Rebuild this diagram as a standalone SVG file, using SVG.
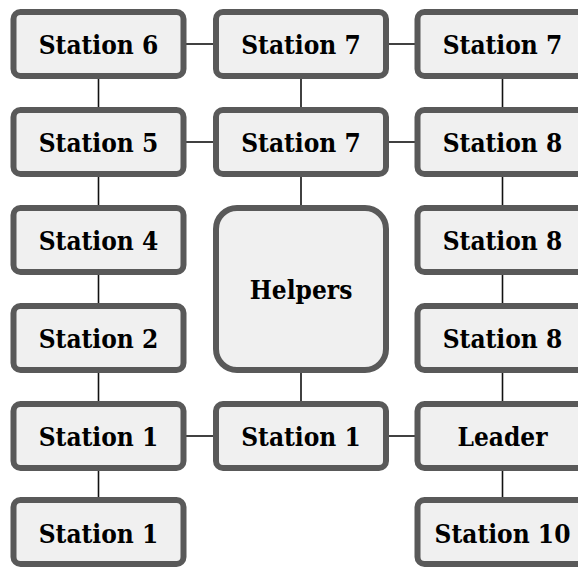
<svg xmlns="http://www.w3.org/2000/svg" width="578" height="567" viewBox="0 0 578 567">
  <style>
    .box { fill: #f0f0f0; stroke: #595959; stroke-width: 6; }
    .lbl { font-family: "DejaVu Serif Condensed", "DejaVu Serif", "Liberation Serif", serif; font-stretch: condensed; font-weight: bold; font-size: 26px; fill: #000; text-anchor: middle; }
    .edge { stroke: #111; stroke-width: 1.6; fill: none; }
  </style>
  <rect width="578" height="567" fill="#ffffff"/>

  <!-- connectors -->
  <g id="connectors" class="edge">
    <!-- horizontal links -->
    <line x1="186" y1="44" x2="213" y2="44"/>
    <line x1="388" y1="44" x2="415" y2="44"/>
    <line x1="186" y1="142" x2="213" y2="142"/>
    <line x1="388" y1="142" x2="415" y2="142"/>
    <line x1="186" y1="436" x2="213" y2="436"/>
    <line x1="388" y1="436" x2="415" y2="436"/>
    <!-- left column -->
    <line x1="98.5" y1="79" x2="98.5" y2="107"/>
    <line x1="98.5" y1="177" x2="98.5" y2="205"/>
    <line x1="98.5" y1="275" x2="98.5" y2="303"/>
    <line x1="98.5" y1="373" x2="98.5" y2="401"/>
    <line x1="98.5" y1="471" x2="98.5" y2="497"/>
    <!-- middle column -->
    <line x1="301" y1="79" x2="301" y2="107"/>
    <line x1="301" y1="177" x2="301" y2="205"/>
    <line x1="301" y1="373" x2="301" y2="401"/>
    <!-- right column -->
    <line x1="502.5" y1="79" x2="502.5" y2="107"/>
    <line x1="502.5" y1="177" x2="502.5" y2="205"/>
    <line x1="502.5" y1="275" x2="502.5" y2="303"/>
    <line x1="502.5" y1="373" x2="502.5" y2="401"/>
    <line x1="502.5" y1="471" x2="502.5" y2="497"/>
  </g>

  <!-- left column -->
  <g id="n-station6">
    <rect class="box" x="13.5" y="12" width="170" height="64" rx="7"/>
    <text class="lbl" x="98.5" y="54">Station 6</text>
  </g>
  <g id="n-station5">
    <rect class="box" x="13.5" y="110" width="170" height="64" rx="7"/>
    <text class="lbl" x="98.5" y="152">Station 5</text>
  </g>
  <g id="n-station4">
    <rect class="box" x="13.5" y="208" width="170" height="64" rx="7"/>
    <text class="lbl" x="98.5" y="250">Station 4</text>
  </g>
  <g id="n-station2">
    <rect class="box" x="13.5" y="306" width="170" height="64" rx="7"/>
    <text class="lbl" x="98.5" y="348">Station 2</text>
  </g>
  <g id="n-station1a">
    <rect class="box" x="13.5" y="404" width="170" height="64" rx="7"/>
    <text class="lbl" x="98.5" y="446">Station 1</text>
  </g>
  <g id="n-station1b">
    <rect class="box" x="13.5" y="500" width="170" height="64" rx="7"/>
    <text class="lbl" x="98.5" y="543">Station 1</text>
  </g>

  <!-- middle column -->
  <g id="n-station7a">
    <rect class="box" x="216" y="12" width="170" height="64" rx="7"/>
    <text class="lbl" x="301" y="54">Station 7</text>
  </g>
  <g id="n-station7b">
    <rect class="box" x="216" y="110" width="170" height="64" rx="7"/>
    <text class="lbl" x="301" y="152">Station 7</text>
  </g>
  <g id="n-helpers">
    <rect class="box" x="216" y="208" width="170" height="162" rx="21"/>
    <text class="lbl" x="301" y="299">Helpers</text>
  </g>
  <g id="n-station1c">
    <rect class="box" x="216" y="404" width="170" height="64" rx="7"/>
    <text class="lbl" x="301" y="446">Station 1</text>
  </g>

  <!-- right column -->
  <g id="n-station7c">
    <rect class="box" x="417.5" y="12" width="170" height="64" rx="7"/>
    <text class="lbl" x="502.5" y="54">Station 7</text>
  </g>
  <g id="n-station8a">
    <rect class="box" x="417.5" y="110" width="170" height="64" rx="7"/>
    <text class="lbl" x="502.5" y="152">Station 8</text>
  </g>
  <g id="n-station8b">
    <rect class="box" x="417.5" y="208" width="170" height="64" rx="7"/>
    <text class="lbl" x="502.5" y="250">Station 8</text>
  </g>
  <g id="n-station8c">
    <rect class="box" x="417.5" y="306" width="170" height="64" rx="7"/>
    <text class="lbl" x="502.5" y="348">Station 8</text>
  </g>
  <g id="n-leader">
    <rect class="box" x="417.5" y="404" width="170" height="64" rx="7"/>
    <text class="lbl" x="502.5" y="446">Leader</text>
  </g>
  <g id="n-station10">
    <rect class="box" x="417.5" y="500" width="170" height="64" rx="7"/>
    <text class="lbl" x="502.5" y="543">Station 10</text>
  </g>
</svg>
